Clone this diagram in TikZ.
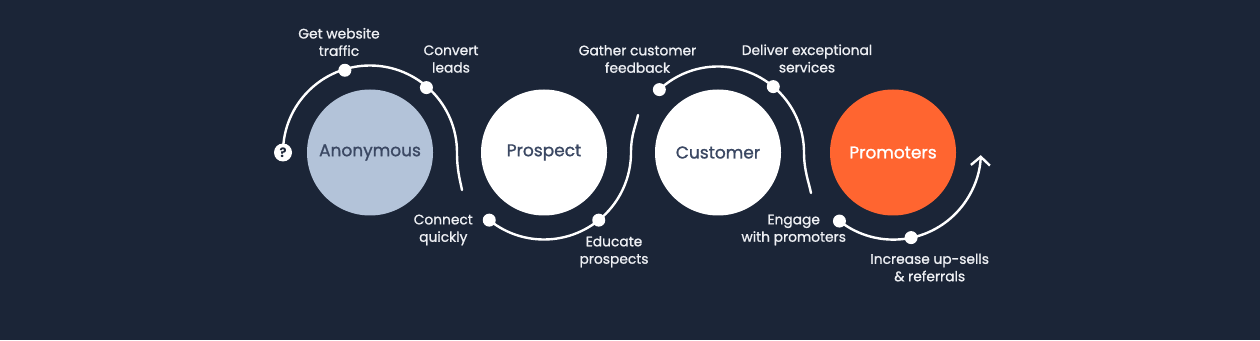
\documentclass[tikz,border=0pt]{standalone}
\usepackage{fontspec}
\setmainfont{Poppins}
\newfontfamily\medfont{Poppins}[FakeBold=1.2]
\newfontfamily\lblfont{Poppins}[FakeBold=1.0]
\usetikzlibrary{arrows.meta}
\definecolor{bg}{HTML}{1B2537}
\definecolor{anonfill}{HTML}{B3C3D9}
\definecolor{circtext}{HTML}{3B4863}
\definecolor{promfill}{HTML}{FF6530}
\definecolor{labeltext}{HTML}{EEF0F4}
\begin{document}
\begin{tikzpicture}[x=1pt,y=1pt,
  stage/.style={circle, minimum size=126pt, inner sep=0pt, font=\medfont\fontsize{17}{20}\selectfont},
  dotnode/.style={circle, fill=white, minimum size=13pt, inner sep=0pt},
  qnode/.style={circle, fill=white, minimum size=18pt, inner sep=0pt, text=bg, font=\bfseries\fontsize{13}{13}\selectfont},
  flow/.style={draw=white, line width=2.4pt, line cap=round},
  lbl/.style={text=labeltext, align=center, font=\lblfont\fontsize{13.8}{17.4}\selectfont, inner sep=0pt},
]
\fill[bg] (0,0) rectangle (1260,340);
\useasboundingbox (0,0) rectangle (1260,340);

% stages
\node[stage, fill=anonfill, text=circtext] (anon) at (370,187.5) {Anonymous};
\node[stage, fill=white, text=circtext] (pros) at (544,187.5) {Prospect};
\node[stage, fill=white, text=circtext] (cust) at (718,187.5) {Customer};
\node[stage, fill=promfill, text=white] (prom) at (893,187.5) {Promoters};

% dots
\node[dotnode] (a1) at ([shift={(107:86)}]anon.center) {};
\node[dotnode] (a2) at ([shift={(49:86)}]anon.center) {};
\node[dotnode] (b1) at ([shift={(231:87)}]pros.center) {};
\node[dotnode] (b2) at ([shift={(-51:87)}]pros.center) {};
\node[dotnode] (c1) at ([shift={(133:86)}]cust.center) {};
\node[dotnode] (c2) at ([shift={(50:86)}]cust.center) {};
\node[dotnode] (d1) at ([shift={(232:87)}]prom.center) {};
\node[dotnode] (d2) at ([shift={(-78:87)}]prom.center) {};

\coordinate (qc) at ([shift={(180:87)}]anon.center);
\coordinate (aEnd) at (462,150);
\coordinate (bEnd) at (638,225);
\coordinate (cEnd) at (811,147);

% flow lines
\draw[flow] (qc) arc[start angle=180, end angle=0, radius=87]
  .. controls +(0,-18) and +(-2,10) .. (aEnd);
\draw[flow] (b1.center) arc[start angle=231, end angle=360, radius=87]
  .. controls +(0,18) and +(-2,-10) .. (bEnd);
\draw[flow] (c1.center) arc[start angle=133, end angle=0, radius=86]
  .. controls +(0,-18) and +(-2,10) .. (cEnd);
\draw[flow, -{Straight Barb[length=8.5pt,width=19pt]}] (d1.center) arc[start angle=232, end angle=358, radius=87.5];

\node[qnode] (q) at (qc) {?};

% labels
\node[lbl] (la1) at (339,298) {Get website\\traffic};
\node[lbl] (la2) at (451,281) {Convert\\leads};
\node[lbl] (lb1) at (443.3,110) {Connect\\quickly};
\node[lbl] (lb2) at (614,88.3) {Educate\\prospects};
\node[lbl] (lc1) at (637.5,281) {Gather customer\\feedback};
\node[lbl] (lc2) at (807,281.5) {Deliver exceptional\\services};
\node[lbl] (ld1) at (793.7,110) {Engage\\with promoters};
\node[lbl] (ld2) at (929.7,72.5) {Increase up-sells\\\& referrals};
\end{tikzpicture}
\end{document}
